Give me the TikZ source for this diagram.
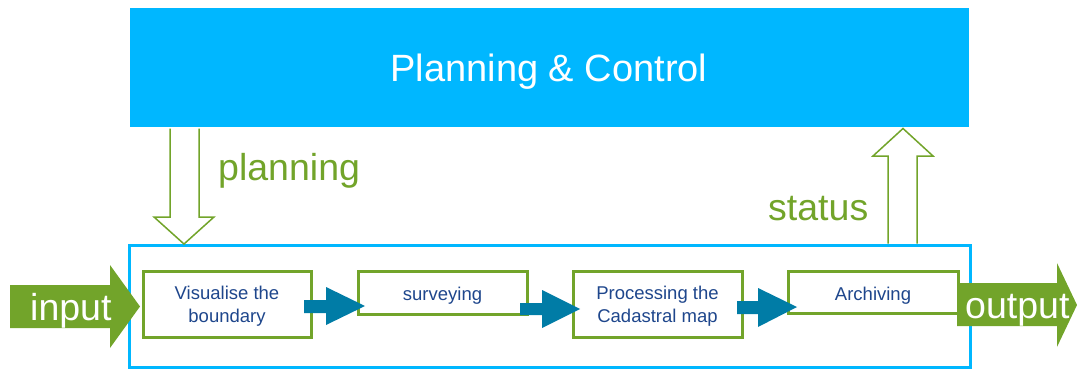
\documentclass[tikz,border=0pt]{standalone}
\usepackage{fontspec}
\setmainfont{Liberation Sans}
\definecolor{skyblue}{RGB}{0,183,255}
\definecolor{leaf}{RGB}{114,164,42}
\definecolor{teal}{RGB}{0,124,166}
\definecolor{ink}{RGB}{30,70,140}
\begin{document}
\begin{tikzpicture}[x=1pt,y=-1pt,
  stagebox/.style={draw=leaf, line width=3pt, fill=white, inner sep=0pt},
  steplabel/.style={text=ink, font=\fontsize{18.5}{22}\selectfont, inner sep=0pt, anchor=base},
  biglabel/.style={font=\fontsize{37.5}{44}\selectfont, inner sep=0pt, anchor=base west},
  hollow/.style={draw=leaf, line width=1.5pt, fill=white, line join=miter},
  flow/.style={fill=teal},
  block/.style={fill=leaf}]
\useasboundingbox (0,0) rectangle (1077,369);

% Planning & Control header
\node[fill=skyblue, minimum width=839pt, minimum height=119pt, inner sep=0pt,
      text=white, font=\fontsize{38}{44}\selectfont] (pc) at (549.5,67.5) {};
\node[text=white, font=\fontsize{38}{44}\selectfont, inner sep=0pt, anchor=base]
      (pctext) at (549,81.7) {Planning \& Control};

% process frame
\node[draw=skyblue, line width=3pt, minimum width=841pt, minimum height=122pt,
      inner sep=0pt] (frame) at (549.5,306) {};

% stages
\node[stagebox, minimum width=168pt, minimum height=66pt] (s1) at (227,304) {};
\node[stagebox, minimum width=169pt, minimum height=43pt] (s2) at (442.5,292.5) {};
\node[stagebox, minimum width=169pt, minimum height=66pt] (s3) at (657.5,304) {};
\node[stagebox, minimum width=170pt, minimum height=42pt] (s4) at (873,292) {};

\node[steplabel] (s1a) at (227,299) {Visualise the};
\node[steplabel] (s1b) at (227,322) {boundary};
\node[steplabel] (s2a) at (442.5,300) {surveying};
\node[steplabel] (s3a) at (657.5,299) {Processing the};
\node[steplabel] (s3b) at (657.5,322) {Cadastral map};
\node[steplabel] (s4a) at (873,300) {Archiving};

% flow arrows between stages
\fill[flow] (304,300) -- (326,300) -- (326,287) -- (365,306) -- (326,325) -- (326,313) -- (304,313) -- cycle;
\fill[flow] (520,303) -- (542,303) -- (542,290) -- (580,309) -- (542,328) -- (542,315) -- (520,315) -- cycle;
\fill[flow] (737,301) -- (758,301) -- (758,288) -- (797,307) -- (758,327) -- (758,314) -- (737,314) -- cycle;

% input / output
\fill[block] (10,285) -- (110,285) -- (110,265) -- (140,306.5) -- (110,348) -- (110,328) -- (10,328) -- cycle;
\node[biglabel, text=white] (in) at (30,320) {input};
\fill[block] (957,283) -- (1057,283) -- (1057,263) -- (1077,305) -- (1057,347) -- (1057,326) -- (957,326) -- cycle;
\node[biglabel, text=white] (out) at (965,318) {output};

% planning and status arrows
\draw[hollow] (170,128.5) -- (170,217) -- (154,217) -- (184,244) -- (214,217) -- (199,217) -- (199,128.5);
\node[biglabel, text=leaf] (plan) at (218,180) {planning};
\draw[hollow] (888,243.5) -- (888,156) -- (873,156) -- (903,128.5) -- (933,156) -- (917,156) -- (917,243.5);
\node[biglabel, text=leaf] (stat) at (768,220) {status};
\end{tikzpicture}
\end{document}
